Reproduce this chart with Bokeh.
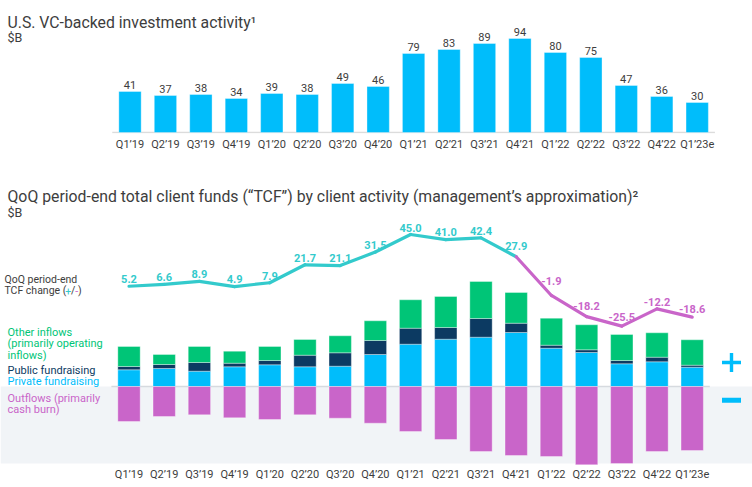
from bokeh.plotting import figure
from bokeh.models import Range1d, FixedTicker, Label, BoxAnnotation
from bokeh.layouts import column
from bokeh.embed import file_html
from bokeh.resources import INLINE
from bokeh.core.properties import value

# ---------------- data ----------------
quarters = ["Q1’19", "Q2’19", "Q3’19", "Q4’19", "Q1’20", "Q2’20", "Q3’20", "Q4’20",
            "Q1’21", "Q2’21", "Q3’21", "Q4’21", "Q1’22", "Q2’22", "Q3’22", "Q4’22", "Q1’23e"]
vc_investment = [41, 37, 38, 34, 39, 38, 49, 46, 79, 83, 89, 94, 80, 75, 47, 36, 30]
tcf_change = [5.2, 6.6, 8.9, 4.9, 7.9, 21.7, 21.1, 31.5, 45.0, 41.0, 42.4, 27.9,
              -1.9, -18.2, -25.5, -12.2, -18.6]
private_fundraising = [16.7, 18, 15.3, 19.7, 21.7, 19.7, 20.3, 32, 42.3, 47.3, 49.3, 54,
                       38.3, 34, 22.7, 24.7, 19.3]
public_fundraising = [3.3, 4, 8.7, 3.6, 4.3, 11.6, 13.4, 14, 16, 11.7, 18.7, 9.3,
                      3, 2.7, 3.3, 4.6, 2]
other_inflows = [20, 10, 16, 12, 14, 15.7, 17, 19.7, 28.4, 31, 37, 30.7,
                 27, 25, 26, 24.4, 25.4]
outflows = [35, 30, 28.3, 31.3, 33, 28.3, 31.7, 36.7, 45, 53, 65, 69,
            70, 78.3, 77, 65, 64]

# ---------------- styles ----------------
FONT = "Roboto"
SKY = "#00BDFB"
GREEN = "#00C577"
NAVY = "#0C3A62"
MAGENTA = "#C965C9"
TEAL = "#33CACC"
DARK = "#3D3D3D"
BAND = "#F1F4F7"
TITLE_SIZE = "15.8px"

W = 752
idx = list(range(len(quarters)))
n = len(quarters)


def style_axis(ax, standoff):
    ax.ticker = FixedTicker(ticks=idx)
    ax.major_label_overrides = {i: q for i, q in zip(idx, quarters)}
    ax.axis_line_color = None
    ax.major_tick_line_color = None
    ax.minor_tick_line_color = None
    ax.major_tick_out = 0
    ax.major_tick_in = 0
    ax.minor_tick_out = 0
    ax.minor_tick_in = 0
    ax.axis_label_standoff = 0
    ax.major_label_standoff = standoff
    ax.major_label_text_font = FONT
    ax.major_label_text_font_size = "11px"
    ax.major_label_text_color = DARK


# ================= top chart =================
s1, c1 = 35.45, 129.5          # px per category, px of first bar centre
top_frame_bottom, base1 = 133, 132
p1 = figure(width=W, height=168, output_backend="svg", toolbar_location=None,
            x_range=Range1d(-c1 / s1, (W - c1) / s1),
            y_range=Range1d(base1 - top_frame_bottom, base1),
            min_border_left=0, min_border_right=0, min_border_top=0,
            min_border_bottom=168 - top_frame_bottom,
            y_axis_location=None, outline_line_color=None)
p1.xgrid.visible = False
p1.ygrid.visible = False

p1.segment(x0=[-0.5], y0=[0], x1=[n - 0.5], y1=[0], line_color="#DCDCDC", line_width=1.5)
p1.vbar(x=idx, top=vc_investment, bottom=0, width=0.63, fill_color=SKY,
        line_color="white", line_alpha=0.35, line_width=1)
p1.text(x=idx, y=vc_investment, text=[str(v) for v in vc_investment],
        text_align="center", text_baseline="alphabetic", y_offset=-7,
        text_font=value(FONT), text_font_size="11px", text_color=DARK)
style_axis(p1.xaxis[0], 4)

x1_start = p1.x_range.start
p1.add_layout(Label(x=x1_start, x_offset=7, y=base1 - 22.3,
                    text="U.S. VC-backed investment activity¹",
                    text_font=FONT, text_font_size=TITLE_SIZE, text_color=DARK,
                    text_baseline="alphabetic"))
p1.add_layout(Label(x=x1_start, x_offset=7, y=base1 - 36.5, text="$B", text_font=FONT,
                    text_font_size="12.5px", text_color=DARK, text_baseline="alphabetic"))

# ================= bottom chart =================
s2, c2 = 35.2, 128.5
fr_top, fr_bot, band_bot, zero_bar, zero_line, k_line = 168, 465, 463, 386, 292.5, 1.3
p2 = figure(width=W, height=487 - fr_top, output_backend="svg", toolbar_location=None,
            x_range=Range1d(-c2 / s2, (W - c2) / s2),
            y_range=Range1d(zero_bar - fr_bot, zero_bar - fr_top),
            min_border_left=0, min_border_right=0, min_border_top=0,
            min_border_bottom=487 - fr_bot,
            y_axis_location=None, outline_line_color=None)
p2.extra_y_ranges = {"tcf": Range1d((zero_line - fr_bot) / k_line, (zero_line - fr_top) / k_line)}
p2.xgrid.visible = False
p2.ygrid.visible = False

p2.add_layout(BoxAnnotation(top=0, bottom=zero_bar - band_bot, fill_color=BAND, fill_alpha=1,
                            line_color=None, level="underlay"))
p2.segment(x0=[-0.5], y0=[0], x1=[n - 0.5], y1=[0], line_color="#D6DADF", line_width=1.5)

b1 = private_fundraising
b2 = [a + b for a, b in zip(b1, public_fundraising)]
b3 = [a + b for a, b in zip(b2, other_inflows)]
bw = 0.635
edge = dict(line_color="white", line_alpha=0.35, line_width=1)
p2.vbar(x=idx, bottom=0, top=b1, width=bw, fill_color=SKY, **edge)
p2.vbar(x=idx, bottom=b1, top=b2, width=bw, fill_color=NAVY, **edge)
p2.vbar(x=idx, bottom=b2, top=b3, width=bw, fill_color=GREEN, **edge)
p2.vbar(x=idx, bottom=[-v for v in outflows], top=0, width=bw, fill_color=MAGENTA, **edge)

seg_col = [TEAL if tcf_change[i + 1] >= 0 else MAGENTA for i in range(n - 1)]
p2.segment(x0=idx[:-1], y0=tcf_change[:-1], x1=idx[1:], y1=tcf_change[1:],
           line_color=seg_col, line_width=3.2, line_cap="round", y_range_name="tcf")
lab_col = [TEAL if v >= 0 else MAGENTA for v in tcf_change]
# lift labels a little more where the line drops steeply into the point
drops = [0] + [max(0.0, (tcf_change[i - 1] - tcf_change[i]) * k_line) for i in range(1, n)]
lab_off = [-(7 + 0.18 * d) for d in drops]
p2.text(x=idx, y=tcf_change, text=[f"{v:.1f}" for v in tcf_change],
        text_align="center", text_baseline="alphabetic", y_offset=lab_off,
        text_font=value(FONT), text_font_size="11px", text_font_style="bold",
        text_color=lab_col, y_range_name="tcf")
style_axis(p2.xaxis[0], 2)

x2_start = p2.x_range.start


def lab(text, y, color, size="11px", dx=7):
    p2.add_layout(Label(x=x2_start, y=y, x_offset=dx, text=text, text_font=FONT,
                        text_font_size=size, text_color=color, text_baseline="alphabetic"))


lab("QoQ period-end total client funds (“TCF”) by client activity (management’s approximation)²",
    zero_bar - 196, DARK, TITLE_SIZE)
lab("$B", zero_bar - 211.5, DARK, "12.5px")
lab("QoQ period-end", zero_bar - 279, DARK, "10.5px", 4)
lab("TCF change (", zero_bar - 290, DARK, "10.5px", 4)
lab("+", zero_bar - 290, TEAL, "10.5px", 64.8)
lab("/", zero_bar - 290, DARK, "10.5px", 70.6)
lab("-", zero_bar - 290, MAGENTA, "10.5px", 74.8)
lab(")", zero_bar - 290, DARK, "10.5px", 77.6)
lab("Other inflows", zero_bar - 332, GREEN)
lab("(primarily operating", zero_bar - 343.4, GREEN)
lab("inflows)", zero_bar - 354.6, GREEN)
lab("Public fundraising", zero_bar - 369.5, NAVY)
lab("Private fundraising", zero_bar - 381, SKY)
lab("Outflows (primarily", zero_bar - 398, MAGENTA)
lab("cash burn)", zero_bar - 408.5, MAGENTA)

# plus / minus signs
px_sign = (731 - c2) / s2
p2.rect(x=[px_sign, px_sign], y=[zero_bar - 362, zero_bar - 362], width=[19, 3.4],
        height=[3.4, 19], width_units="screen", height_units="screen",
        fill_color=SKY, line_color=None)
p2.rect(x=[px_sign], y=[zero_bar - 399.7], width=19, height=5,
        width_units="screen", height_units="screen", fill_color=SKY, line_color=None)

layout = column(p1, p2, spacing=0)
open("out.html", "w").write(file_html(layout, INLINE))
